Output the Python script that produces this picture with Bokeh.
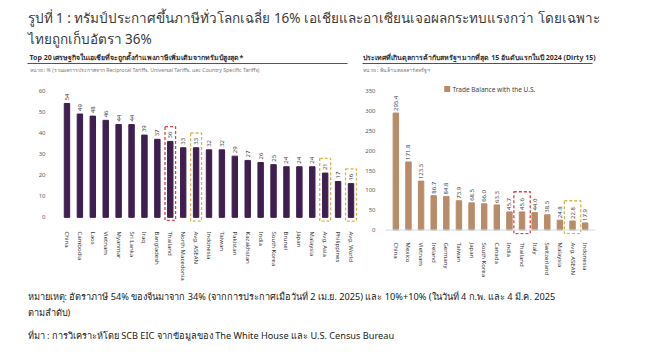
import math
from bokeh.plotting import figure
from bokeh.layouts import column, row
from bokeh.models import Range1d, FixedTicker, Span, ColumnDataSource, FactorRange, Spacer
from bokeh.core.properties import value
from bokeh.embed import file_html
from bokeh.resources import INLINE

# ---------------- data ----------------
left_countries = ["China", "Cambodia", "Laos", "Vietnam", "Myanmar", "Sri Lanka", "Iraq",
                  "Bangladesh", "Thailand", "North Macedonia", "Avg. ASEAN", "Indonesia",
                  "Taiwan", "Pakistan", "Kazakhstan", "India", "South Korea", "Brunei",
                  "Japan", "Malaysia", "Avg. Asia", "Philippines", "Avg. World"]
left_rates = [54, 49, 48, 46, 44, 44, 39, 37, 36, 33, 33, 32, 32, 29, 27, 26, 25, 24, 24, 24, 21, 17, 16]
left_ticks = [0, 10, 20, 30, 40, 50, 60]
left_red = ["Thailand"]
left_gold = ["Avg. ASEAN", "Avg. Asia", "Avg. World"]

right_countries = ["China", "Mexico", "Vietnam", "Ireland", "Germany", "Taiwan", "Japan",
                   "South Korea", "Canada", "India", "Thailand", "Italy", "Switzerland",
                   "Malaysia", "Avg. ASEAN", "Indonesia"]
right_balances = [295.4, 171.8, 123.5, 86.7, 84.8, 73.9, 68.5, 66.0, 63.3, 45.7, 45.6, 44.0, 38.5, 24.8, 22.8, 17.9]
right_ticks = [0, 50, 100, 150, 200, 250, 300, 350]
right_red = ["Thailand"]
right_gold = ["Avg. ASEAN"]
legend_text = "Trade Balance with the U.S."

title_line1 = "รูปที่ 1 : ทรัมป์ประกาศขึ้นภาษีทั่วโลกเฉลี่ย 16% เอเชียและอาเซียนเจอผลกระทบแรงกว่า โดยเฉพาะ"
title_line2 = "ไทยถูกเก็บอัตรา 36%"
left_title = "Top 20 เศรษฐกิจในเอเชียที่จะถูกตั้งกำแพงภาษีเพิ่มเติมจากทรัมป์สูงสุด*"
left_sub = "หน่วย : % (รวมผลการประกาศจาก Reciprocal Tariffs, Universal Tariffs, และ Country Specific Tariffs)"
right_title = "ประเทศที่เกินดุลการค้ากับสหรัฐฯ มากที่สุด 15 อันดับแรกในปี 2024 (Dirty 15)"
right_sub = "หน่วย : พันล้านดอลลาร์สหรัฐฯ"
note1 = "หมายเหตุ: อัตราภาษี 54% ของจีนมาจาก 34% (จากการประกาศเมื่อวันที่ 2 เม.ย. 2025) และ 10%+10% (ในวันที่ 4 ก.พ. และ 4 มี.ค. 2025"
note2 = "ตามลำดับ)"
source = "ที่มา : การวิเคราะห์โดย SCB EIC จากข้อมูลของ The White House และ U.S. Census Bureau"

FONT = "Noto Sans"
PURPLE = "#3e1f50"
BROWN = "#b98c69"
RED = "#d9434e"
GOLD = "#d4b552"


def blank(w, h):
    p = figure(width=w, height=h, x_range=Range1d(0, w), y_range=Range1d(h, 0),
               output_backend="svg", toolbar_location=None, min_border=0,
               x_axis_location=None, y_axis_location=None)
    p.grid.visible = False
    p.outline_line_color = None
    return p


# ---------------- header ----------------
hdr = blank(648, 72)
hdr.text(x=[27, 27], y=[11, 32], text=[title_line1, title_line2], text_font=value(FONT),
         text_font_size="13.5px", text_color="#3b3b3b", text_baseline="middle", text_align="left")
hdr.text(x=[29, 362], y=[50.5, 50.5], text=[left_title, right_title], text_font=value(FONT),
         text_font_size="7px", text_font_style="bold", text_color="#333333",
         text_baseline="middle", text_align="left")
hdr.segment(x0=[27, 362], y0=[57, 57], x1=[347, 592], y1=[57, 57], line_color="#555555", line_width=1.2)
hdr.text(x=[29, 362], y=[63, 63], text=[left_sub, right_sub], text_font=value(FONT),
         text_font_size="5.2px", text_color="#7a7a7a", text_baseline="middle", text_align="left")


def style_chart(p, ticks, standoff):
    p.grid.visible = False
    p.outline_line_color = None
    p.yaxis.ticker = FixedTicker(ticks=ticks)
    for ax in (p.xaxis, p.yaxis):
        ax.axis_line_color = None
        ax.major_tick_line_color = None
        ax.minor_tick_line_color = None
        ax.major_label_text_font = FONT
        ax.major_label_text_font_size = "6px"
    p.yaxis.major_label_text_color = "#5a5a5a"
    p.yaxis.major_label_standoff = 4
    p.xaxis.major_label_text_color = "#3c3c3c"
    p.xaxis.major_label_orientation = "vertical"
    p.xaxis.major_label_standoff = standoff


def boxes(p, cats, vals, names, color, width, pad_top, bottom):
    lookup = dict(zip(cats, vals))
    tops = [lookup[n] + pad_top for n in names]
    ys = [(t + bottom) / 2 for t in tops]
    hs = [t - bottom for t in tops]
    p.rect(x=list(names), y=ys, width=width, height=hs, fill_color=None, line_color=color,
           line_width=1.3, line_dash="3 2")


# ---------------- left chart ----------------
lp = figure(width=362, height=205, x_range=FactorRange(*left_countries, range_padding=0.39,
                                                        range_padding_units="absolute"),
            y_range=Range1d(-8.13, 65.84), output_backend="svg", toolbar_location=None,
            min_border_left=55, min_border_right=0, min_border_top=0, min_border_bottom=43)
style_chart(lp, left_ticks, -9)
lsrc = ColumnDataSource(dict(x=left_countries, top=left_rates, lab=[str(v) for v in left_rates]))
lp.vbar(x="x", top="top", width=0.42, source=lsrc, color=PURPLE)
lp.text(x="x", y="top", text="lab", source=lsrc, angle=math.pi / 2, text_align="left",
        text_baseline="middle", y_offset=-3, text_font=value(FONT), text_font_size="6px",
        text_color="#444444")
boxes(lp, left_countries, left_rates, left_red, RED, 0.82, 7.0, -1.4)
boxes(lp, left_countries, left_rates, left_gold, GOLD, 0.85, 7.0, -1.8)

# ---------------- right chart ----------------
rp = figure(width=286, height=205, x_range=FactorRange(*right_countries, range_padding=0.32,
                                                        range_padding_units="absolute"),
            y_range=Range1d(-11.4, 382.7), output_backend="svg", toolbar_location=None,
            min_border_left=20, min_border_right=53, min_border_top=0, min_border_bottom=43)
style_chart(rp, right_ticks, 2)
rp.add_layout(Span(location=0, dimension="width", line_color="#c9dcee", line_width=1))
rsrc = ColumnDataSource(dict(x=right_countries, top=right_balances,
                             lab=["%.1f" % v for v in right_balances]))
rp.vbar(x="x", top="top", width=0.43, source=rsrc, color=BROWN)
rp.text(x="x", y="top", text="lab", source=rsrc, angle=math.pi / 2, text_align="left",
        text_baseline="middle", y_offset=-2, text_font=value(FONT), text_font_size="6px",
        text_color="#444444")
boxes(rp, right_countries, right_balances, right_red, RED, 1.3, 51, -9)
boxes(rp, right_countries, right_balances, right_gold, GOLD, 1.3, 51, -9)
# legend swatch + label (synthetic categorical coordinates)
rp.rect(x=[4.57], y=[356], width=6, height=6, width_units="screen", height_units="screen",
        fill_color=BROWN, line_color=None)
rp.text(x=[4.99], y=[356], text=[legend_text], text_font=value(FONT), text_font_size="6.5px",
        text_color="#444444", text_baseline="middle", text_align="left")

# ---------------- notes ----------------
nts = blank(648, 58)
nts.text(x=[27, 27, 27], y=[12.5, 28.5, 52], text=[note1, note2, source], text_font=value(FONT),
         text_font_size="9.2px", text_color="#222222", text_baseline="middle", text_align="left")

layout = column(Spacer(width=648, height=6), hdr, row(lp, rp), nts)
open("out.html", "w").write(file_html(layout, INLINE))
